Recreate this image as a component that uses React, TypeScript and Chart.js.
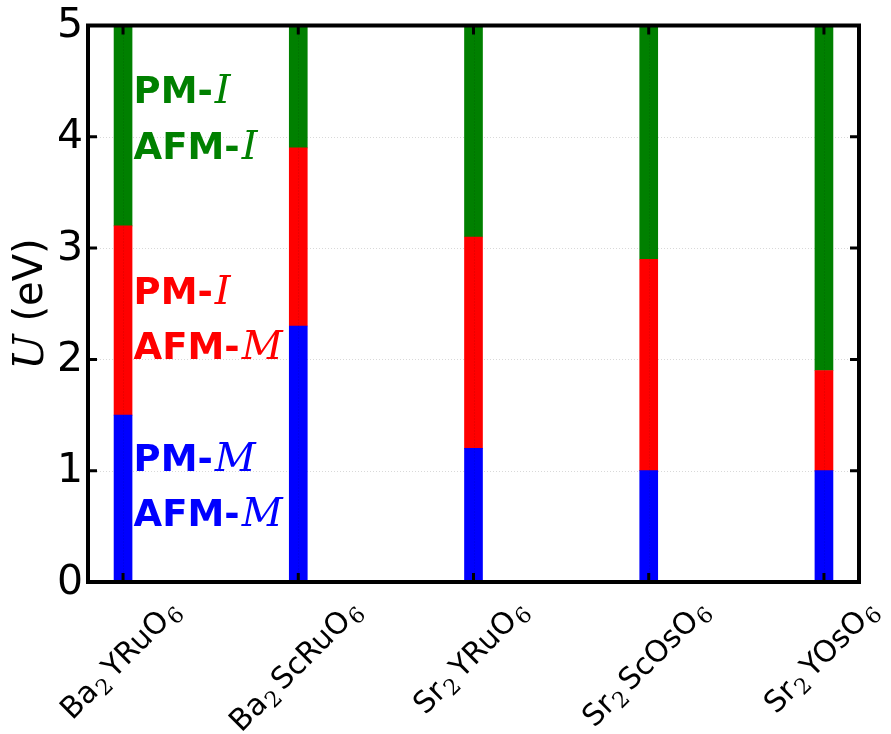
import React, { useEffect, useRef } from 'react';
import { Chart, registerables } from 'chart.js';

Chart.register(...registerables);

// ---- data ----
const categories = ['Ba₂YRuO₆', 'Ba₂ScRuO₆', 'Sr₂YRuO₆', 'Sr₂ScOsO₆', 'Sr₂YOsO₆'];
const metalUpper = [1.5, 2.3, 1.2, 1.0, 1.0];       // top of PM-M / AFM-M region
const insulatorLower = [3.2, 3.9, 3.1, 2.9, 1.9];   // bottom of PM-I / AFM-I region
const uMax = 5;
const yTickValues = [0, 1, 2, 3, 4, 5];

const BLUE = '#0000ff';
const RED = '#ff0000';
const GREEN = '#008000';

// phase annotations (text, symbol, colour, level in eV)
const noteWords = ['PM-', 'AFM-', 'PM-', 'AFM-', 'PM-', 'AFM-'];
const noteSymbols = ['I', 'I', 'I', 'M', 'M', 'M'];
const noteLevels = [4.3, 3.8, 2.5, 2.0, 1.0, 0.5];
const noteColors = [GREEN, GREEN, RED, RED, BLUE, BLUE];
const noteX = 0.06;

const SUBS: Record<string, string> = { '₀': '0', '₁': '1', '₂': '2', '₃': '3', '₄': '4', '₅': '5', '₆': '6', '₇': '7', '₈': '8', '₉': '9' };

const SANS = '"DejaVu Sans", sans-serif';
const SERIF = '"DejaVu Serif", serif';

function formulaSegments(label: string) {
  const segs: { text: string; sub: boolean }[] = [];
  for (const ch of label) {
    const sub = ch in SUBS;
    const t = sub ? SUBS[ch] : ch;
    const last = segs[segs.length - 1];
    if (last && last.sub === sub) last.text += t;
    else segs.push({ text: t, sub });
  }
  return segs;
}

const decorPlugin = {
  id: 'decor',
  beforeDatasetsDraw(chart: any) {
    const { ctx, chartArea, scales } = chart;
    const y = scales.y;
    ctx.save();
    ctx.strokeStyle = 'rgba(0,0,0,0.25)';
    ctx.lineWidth = 0.6;
    ctx.setLineDash([1, 2]);
    for (const v of yTickValues) {
      if (v === 0 || v === uMax) continue;
      const py = Math.round(y.getPixelForValue(v)) + 0.5;
      ctx.beginPath();
      ctx.moveTo(chartArea.left, py);
      ctx.lineTo(chartArea.right, py);
      ctx.stroke();
    }
    ctx.restore();
  },
  afterDraw(chart: any) {
    const { ctx, chartArea, scales } = chart;
    const x = scales.x;
    const y = scales.y;
    const { left, right, top, bottom } = chartArea;
    ctx.save();

    // faint vertical grid over bars
    ctx.strokeStyle = 'rgba(0,0,0,0.25)';
    ctx.lineWidth = 0.6;
    ctx.setLineDash([1, 2]);
    categories.forEach((_, i) => {
      const px = Math.round(x.getPixelForValue(i)) + 0.5;
      ctx.beginPath();
      ctx.moveTo(px, top);
      ctx.lineTo(px, bottom);
      ctx.stroke();
    });
    ctx.setLineDash([]);

    // ticks (inward)
    ctx.strokeStyle = '#000';
    ctx.lineWidth = 3;
    const tl = 9;
    for (const v of yTickValues) {
      const py = y.getPixelForValue(v);
      ctx.beginPath();
      ctx.moveTo(left, py); ctx.lineTo(left + tl, py);
      ctx.moveTo(right, py); ctx.lineTo(right - tl, py);
      ctx.stroke();
    }
    categories.forEach((_, i) => {
      const px = x.getPixelForValue(i);
      ctx.beginPath();
      ctx.moveTo(px, bottom); ctx.lineTo(px, bottom - tl);
      ctx.moveTo(px, top); ctx.lineTo(px, top + tl);
      ctx.stroke();
    });

    // frame
    ctx.lineWidth = 4;
    ctx.strokeRect(left, top, right - left, bottom - top);

    // y tick labels
    ctx.fillStyle = '#000';
    ctx.font = `41px ${SANS}`;
    ctx.textAlign = 'right';
    ctx.textBaseline = 'middle';
    for (const v of yTickValues) {
      ctx.fillText(String(v), left - 5, y.getPixelForValue(v) + 1);
    }

    // y axis title
    ctx.save();
    ctx.translate(32, 304);
    ctx.rotate(-Math.PI / 2);
    ctx.textAlign = 'left';
    ctx.textBaseline = 'middle';
    const fU = `italic 42px ${SERIF}`;
    const fRest = `40px ${SANS}`;
    ctx.font = fU; const wU = ctx.measureText('U').width;
    ctx.font = fRest; const wR = ctx.measureText(' (eV)').width;
    const start = -(wU + wR) / 2;
    ctx.font = fU; ctx.fillText('U', start, 0);
    ctx.font = fRest; ctx.fillText(' (eV)', start + wU, 0);
    ctx.restore();

    // category labels, rotated 45°, centred under tick
    const mainFont = `30px ${SANS}`;
    const subFont = `22px ${SERIF}`;
    categories.forEach((label, i) => {
      const segs = formulaSegments(label);
      let W = 0;
      const widths = segs.map((s) => {
        ctx.font = s.sub ? subFont : mainFont;
        const w = ctx.measureText(s.text).width + (s.sub ? 6 : 0);
        W += w;
        return w;
      });
      const H = 30;
      const cy = bottom + 10 + ((W + H) * Math.SQRT1_2) / 2;
      const px = x.getPixelForValue(i);
      ctx.save();
      ctx.translate(px, cy);
      ctx.rotate(-Math.PI / 4);
      ctx.textAlign = 'left';
      ctx.textBaseline = 'middle';
      let cx = -W / 2;
      segs.forEach((s, k) => {
        ctx.font = s.sub ? subFont : mainFont;
        ctx.fillText(s.text, cx + (s.sub ? 1 : 0), s.sub ? 8 : 0);
        cx += widths[k];
      });
      ctx.restore();
    });

    // phase annotations
    ctx.textAlign = 'left';
    ctx.textBaseline = 'alphabetic';
    const boldFont = `bold 37px ${SANS}`;
    const symFont = `italic 40px ${SERIF}`;
    noteWords.forEach((word, i) => {
      const px = x.getPixelForValue(noteX);
      const py = y.getPixelForValue(noteLevels[i]);
      ctx.fillStyle = noteColors[i];
      ctx.font = boldFont;
      ctx.fillText(word, px, py);
      const w = ctx.measureText(word).width;
      ctx.font = symFont;
      ctx.fillText(noteSymbols[i], px + w + 2, py);
    });

    ctx.restore();
  },
};

export default function App() {
  const canvasRef = useRef<HTMLCanvasElement | null>(null);

  useEffect(() => {
    const canvas = canvasRef.current;
    if (!canvas) return;
    const mk = (lo: number[] | null, hi: number[] | null) =>
      categories.map((_, i) => ({
        x: i,
        y: [lo ? lo[i] : 0, hi ? hi[i] : uMax],
      }));
    const chart = new Chart(canvas, {
      type: 'bar',
      data: {
        datasets: [
          { label: 'metal', data: mk(null, metalUpper) as any, backgroundColor: BLUE, barThickness: 18, grouped: false } as any,
          { label: 'mixed', data: mk(metalUpper, insulatorLower) as any, backgroundColor: RED, barThickness: 18, grouped: false } as any,
          { label: 'insulator', data: mk(insulatorLower, null) as any, backgroundColor: GREEN, barThickness: 18, grouped: false } as any,
        ],
      },
      options: {
        animation: false,
        responsive: false,
        maintainAspectRatio: false,
        layout: { padding: { left: 88, top: 25.5, right: 32, bottom: 152 } },
        plugins: { legend: { display: false }, tooltip: { enabled: false } },
        scales: {
          x: { type: 'linear', min: -0.2, max: 4.2, display: false, offset: false },
          y: { min: 0, max: uMax, display: false },
        },
      } as any,
      plugins: [decorPlugin],
    });
    return () => chart.destroy();
  }, []);

  return (
    <div style={{ position: 'fixed', left: 0, top: 0, width: 891, height: 734, background: '#fff' }}>
      <canvas ref={canvasRef} width={891} height={734} style={{ width: 891, height: 734, display: 'block' }} />
    </div>
  );
}
